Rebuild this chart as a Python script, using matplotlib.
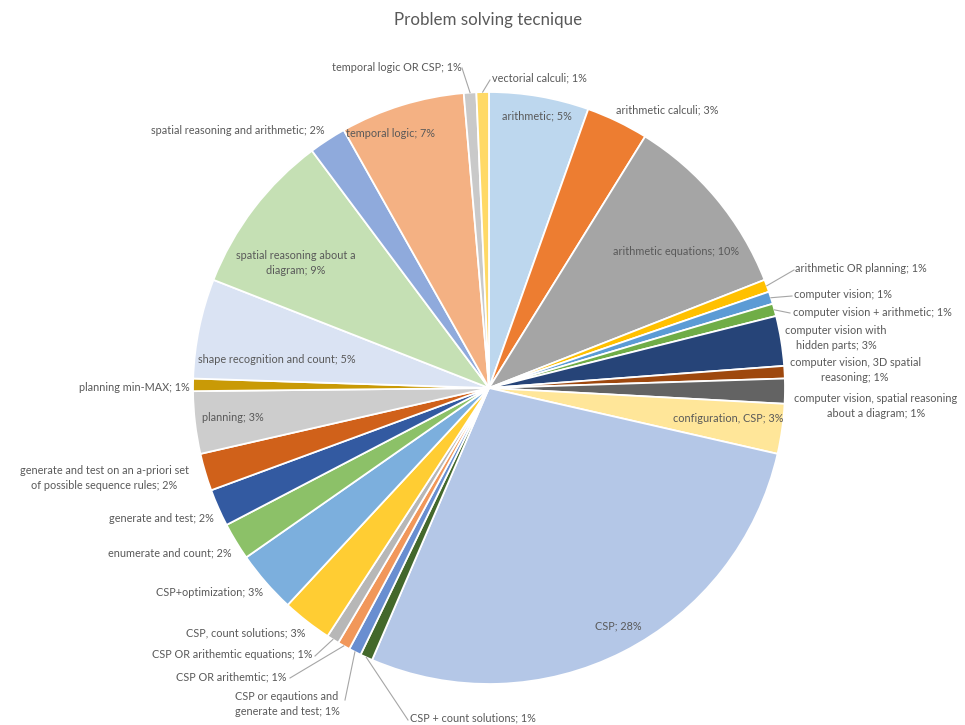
import matplotlib
matplotlib.use('Agg')
import matplotlib.pyplot as plt
import numpy as np

# slices in clockwise order starting at 12 o'clock
techniques = [
    'arithmetic', 'arithmetic calculi', 'arithmetic equations',
    'arithmetic OR planning', 'computer vision', 'computer vision + arithmetic',
    'computer vision with\nhidden parts', 'computer vision, 3D spatial\nreasoning',
    'computer vision, spatial reasoning\nabout a diagram', 'configuration, CSP',
    'CSP', 'CSP + count solutions', 'CSP or eqautions and\ngenerate and test',
    'CSP OR arithemtic', 'CSP OR arithemtic equations', 'CSP, count solutions',
    'CSP+optimization', 'enumerate and count', 'generate and test',
    'generate and test on an a-priori set\nof possible sequence rules',
    'planning', 'planning min-MAX', 'shape recognition and count',
    'spatial reasoning about a\ndiagram', 'spatial reasoning and arithmetic',
    'temporal logic', 'temporal logic OR CSP', 'vectorial calculi',
]
counts = [8, 5, 15, 1, 1, 1, 4, 1, 2, 4,
          41, 1, 1, 1, 1, 4, 5, 3, 3, 3,
          5, 1, 8, 13, 3, 10, 1, 1]
colors = [
    '#BDD7EE', '#ED7D31', '#A5A5A5', '#FFC000', '#5B9BD5', '#70AD47',
    '#264478', '#9E480E', '#636363', '#FFE699', '#B4C7E7', '#43682B',
    '#698ED0', '#F1975A', '#B7B7B7', '#FFCD33', '#7CAFDD', '#8CC168',
    '#335AA1', '#D0611A', '#CDCDCD', '#C99A06', '#DAE3F3', '#C5E0B4',
    '#8FAADC', '#F4B183', '#C9C9C9', '#FFD966',
]

# label centres in pixels (x from left, y from top)
label_pos = [
    (537, 116), (667, 110), (676, 251), (861, 268), (843, 294), (872, 312),
    (836, 338), (855, 370), (876, 406), (728, 418), (618, 626), (473, 718),
    (287, 704), (231, 677), (232, 655), (246, 633), (210, 593), (170, 553),
    (161, 519), (104, 478), (233, 417), (134, 387), (277, 359), (296, 263),
    (238, 130), (391, 133), (397, 67), (539, 78),
]
# where a leader line leaves the label (None = no leader)
leader_from = {
    3: (794, 270), 4: (792, 296), 5: (790, 313),
    11: (408, 720), 12: (345, 700), 13: (290, 678), 14: (315, 656),
    26: (462, 68), 27: (490, 80),
}

W, H = 965, 725
cx, cy, R = 489, 388, 296

fig = plt.figure(figsize=(W / 100, H / 100), dpi=100)
ax = fig.add_axes([0, 0, 1, 1])
wedges, _ = ax.pie(counts, colors=colors, startangle=90, counterclock=False,
                   center=(cx, H - cy), radius=R,
                   wedgeprops=dict(edgecolor='white', linewidth=1.3))
ax.set_xlim(0, W)
ax.set_ylim(0, H)
ax.axis('off')

total = sum(counts)
txt = '#595959'
for i, (name, c) in enumerate(zip(techniques, counts)):
    pct = round(100 * c / total)
    x, y = label_pos[i]
    ax.text(x, H - y, f'{name}; {pct}%', ha='center', va='center',
            multialignment='center', fontsize=7.8, color=txt,
            linespacing=1.35, family=['Lato', 'DejaVu Sans'])
    if i in leader_from:
        w = wedges[i]
        mid = np.deg2rad((w.theta1 + w.theta2) / 2)
        ex = cx + R * np.cos(mid)
        ey = (H - cy) + R * np.sin(mid)
        lx, ly = leader_from[i]
        ax.plot([lx, ex], [H - ly, ey], color='#A6A6A6', lw=0.8)

ax.text(488, H - 20, 'Problem solving tecnique', ha='center', va='center',
        fontsize=12.2, color='#595959', family=['Lato', 'DejaVu Sans'])

fig.savefig('out.png', dpi=100)
